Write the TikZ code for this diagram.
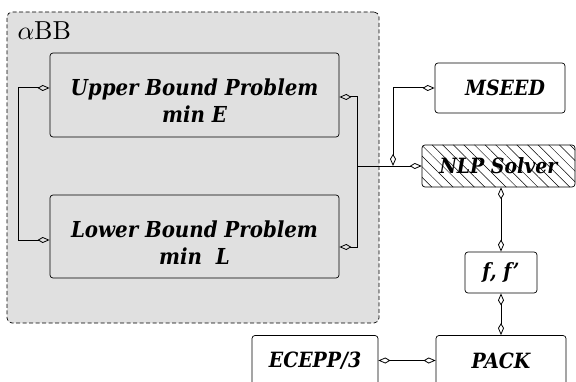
\documentclass[tikz,border=0pt]{standalone}
\usepackage{fontspec}
\newfontfamily\boxfont{DejaVu Serif Condensed}
\usetikzlibrary{arrows.meta,positioning,calc,patterns.meta}
\tikzset{
block/.style = {draw, rounded corners=3pt, line width=0.7pt, inner sep=0pt, font=\boxfont\bfseries\itshape\fontsize{21}{25}\selectfont},
bigblock/.style = {block, align=center, minimum width=289pt, minimum height=84pt, font=\boxfont\bfseries\itshape\fontsize{22}{27}\selectfont},
tmp/.style = {coordinate},
link/.style = {line width=1pt},
frame/.style = {draw, rounded corners=5pt, fill=black!12, line width=0.7pt, dash pattern=on 4pt off 2.5pt},
hatch/.style = {pattern={Lines[angle=-45,distance=7.5pt,line width=0.5pt]}}
}

\begin{document}
\begin{tikzpicture}[x=1pt,y=1pt,>={Kite[open,length=12pt,width=6pt,inset=5pt,line width=0.8pt]}]
\useasboundingbox (0,0) rectangle (576,381);
\node[frame, minimum width=372pt, minimum height=311pt] (abb) at (193,213.5) {};
\node[anchor=base west, inner sep=0pt, scale=2.6] (abbname) at (17,341) {$\alpha$BB};
\node[bigblock] (upper) at (194.5,286) {\rule{0pt}{28pt}Upper Bound Problem\\min E};
\node[bigblock, minimum height=83pt] (lower) at (194.5,144.5) {\rule{0pt}{28pt}Lower Bound Problem\\min\ \ L};
\node[block, minimum width=130pt, minimum height=50pt] (mseed) at (500,293) {\hspace{10pt}MSEED};
\node[block, hatch, minimum width=153pt, minimum height=42pt] (nlp) at (498.5,215) {NLP Solver};
\node[block, minimum width=72pt, minimum height=41pt] (deriv) at (501,108.5) {f, f’};
\node[block, minimum width=130pt, minimum height=50pt] (pack) at (501,20.5) {PACK};
\node[block, minimum width=126pt, minimum height=50pt] (ecepp) at (315,20.5) {ECEPP/3};
\node[tmp] (tmp1) at (357,215) {};
\node[tmp] (tmp2) at (393,215) {};
% feedback loops round the two bound problems
\draw[link,<->] ([yshift=7pt]upper.west) -- ++(-31,0) |- ([yshift=-3.5pt]lower.west);
\draw[link,<->] ([yshift=-2pt]upper.east) -- ++(18,0) |- ([yshift=-10.5pt]lower.east);
\draw[link,->] (tmp1) -- (nlp);
\draw[link,<->] (tmp2) |- (mseed.west);
\draw[link,<->] (deriv |- nlp.south) -- (deriv.north);
\draw[link,<->] (deriv.south) -- (pack.north);
\draw[link,<->] (ecepp.east) -- (pack.west);
\end{tikzpicture}
\end{document}
